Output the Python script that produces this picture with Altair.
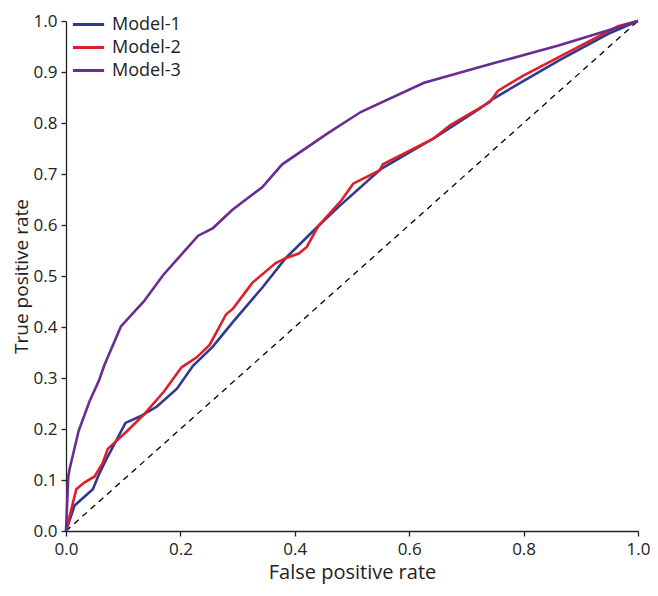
import altair as alt
import pandas as pd

m1_x = [0.0, 0.015, 0.047, 0.056, 0.067, 0.104, 0.130, 0.159, 0.194, 0.222, 0.257, 0.292, 0.343, 0.384, 0.441, 0.476, 0.551, 0.649, 0.723, 0.746, 0.862, 0.948, 1.0]
m1_y = [0.0, 0.050, 0.082, 0.107, 0.133, 0.212, 0.225, 0.244, 0.279, 0.324, 0.362, 0.410, 0.477, 0.535, 0.598, 0.635, 0.710, 0.774, 0.828, 0.847, 0.923, 0.975, 1.0]

m2_x = [0.0, 0.018, 0.032, 0.050, 0.064, 0.073, 0.107, 0.136, 0.171, 0.202, 0.228, 0.251, 0.280, 0.292, 0.326, 0.366, 0.384, 0.407, 0.421, 0.441, 0.482, 0.502, 0.548, 0.554, 0.643, 0.672, 0.741, 0.755, 0.798, 0.890, 0.965, 1.0]
m2_y = [0.0, 0.082, 0.095, 0.107, 0.133, 0.161, 0.196, 0.228, 0.273, 0.321, 0.340, 0.365, 0.425, 0.436, 0.487, 0.525, 0.535, 0.544, 0.557, 0.598, 0.649, 0.681, 0.707, 0.719, 0.770, 0.796, 0.841, 0.863, 0.892, 0.946, 0.990, 1.0]

m3_x = [0.0, 0.004, 0.006, 0.022, 0.041, 0.058, 0.067, 0.096, 0.136, 0.170, 0.231, 0.257, 0.291, 0.343, 0.378, 0.458, 0.516, 0.626, 0.747, 0.861, 0.954, 1.0]
m3_y = [0.0, 0.107, 0.120, 0.196, 0.254, 0.296, 0.325, 0.401, 0.450, 0.502, 0.579, 0.594, 0.630, 0.674, 0.719, 0.780, 0.822, 0.879, 0.917, 0.952, 0.984, 1.0]

models = ["Model-1", "Model-2", "Model-3"]
colors = ["#2e3a8f", "#dd1f2b", "#6a2c91"]

rows = []
for name, xs, ys in [("Model-1", m1_x, m1_y), ("Model-2", m2_x, m2_y), ("Model-3", m3_x, m3_y)]:
    for i, (a, b) in enumerate(zip(xs, ys)):
        rows.append({"model": name, "fpr": a, "tpr": b, "order": i})
df = pd.DataFrame(rows)

diag = pd.DataFrame({"fpr": [0.0, 1.0], "tpr": [0.0, 1.0]})

FONT = "Open Sans"

x_enc = alt.X("fpr:Q", scale=alt.Scale(domain=[0, 1], nice=False),
              axis=alt.Axis(title="False positive rate", values=[0, 0.2, 0.4, 0.6, 0.8, 1.0],
                            format=".1f", grid=False, labelFlush=False,
                            tickSize=5, labelPadding=5, titlePadding=5, titleFontSize=20))
y_enc = alt.Y("tpr:Q", scale=alt.Scale(domain=[0, 1], nice=False),
              axis=alt.Axis(title="True positive rate",
                            values=[0, 0.1, 0.2, 0.3, 0.4, 0.5, 0.6, 0.7, 0.8, 0.9, 1.0],
                            format=".1f", grid=False, labelFlush=False,
                            tickSize=5, labelPadding=4, titlePadding=2, titleFontSize=19))

diag_layer = alt.Chart(diag).mark_line(color="black", strokeDash=[6, 5], strokeWidth=1.3).encode(
    x=x_enc, y=y_enc)

lines = alt.Chart(df).mark_line(strokeWidth=2.6).encode(
    x=x_enc, y=y_enc,
    color=alt.Color("model:N", scale=alt.Scale(domain=models, range=colors),
                    legend=alt.Legend(title=None, orient="none", legendX=9, legendY=-10,
                                      symbolType="M-1.3,0H1.3", symbolSize=576,
                                      symbolStrokeWidth=3, labelOffset=10,
                                      labelFontSize=18, labelFont=FONT, labelColor="#222",
                                      rowPadding=0, padding=0)),
    order="order:Q",
)

chart = alt.layer(diag_layer, lines).properties(
    width=572, height=510,
    autosize=alt.AutoSizeParams(type="none"),
    padding={"left": 58, "top": 13, "right": 12, "bottom": 53},
).configure_view(stroke=None).configure_axis(
    domainColor="#222", tickColor="#222", domainWidth=1.3, tickWidth=1.3,
    labelFont=FONT, titleFont=FONT, labelFontSize=17,
    labelColor="#222", titleColor="#222", titleFontWeight="normal",
)

chart.save("out.html", embed_options={"renderer": "svg", "actions": False})
